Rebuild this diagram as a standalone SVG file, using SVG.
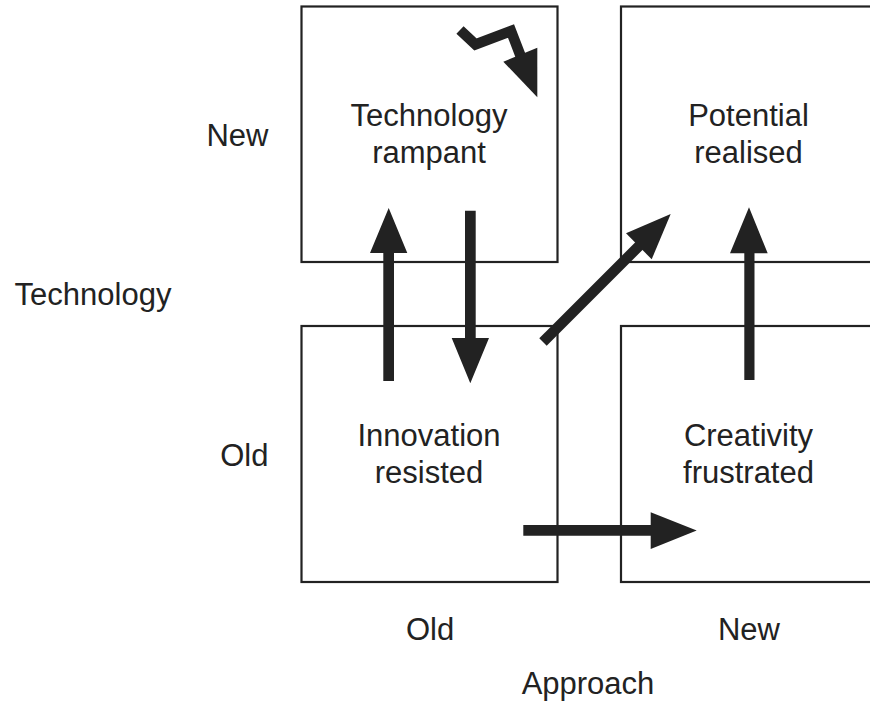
<svg xmlns="http://www.w3.org/2000/svg" width="870" height="701" viewBox="0 0 870 701">
<style>
.box{fill:none;stroke:#222;stroke-width:2.2}
.t{font-family:"Liberation Sans",Arial,Helvetica,sans-serif;font-size:31px;fill:#222;text-anchor:middle}
.r{text-anchor:end}
.a{fill:#222;stroke:none}
.s{fill:none;stroke:#222;stroke-width:10.5;stroke-linecap:butt;stroke-linejoin:miter}
</style>
<rect width="870" height="701" fill="#fff"/>
<g id="node-rampant">
<rect class="box" x="301.5" y="6.5" width="256" height="255.5"/>
<text class="t" x="429" y="126">Technology</text>
<text class="t" x="429" y="163">rampant</text>
</g>
<g id="node-realised">
<rect class="box" x="621" y="6.5" width="270" height="255.5"/>
<text class="t" x="748.5" y="126">Potential</text>
<text class="t" x="748.5" y="163">realised</text>
</g>
<g id="node-resisted">
<rect class="box" x="301.5" y="326" width="256" height="256"/>
<text class="t" x="429" y="446">Innovation</text>
<text class="t" x="429" y="483">resisted</text>
</g>
<g id="node-frustrated">
<rect class="box" x="621" y="326" width="270" height="256"/>
<text class="t" x="748.5" y="446">Creativity</text>
<text class="t" x="748.5" y="483">frustrated</text>
</g>
<g id="axis-labels">
<text class="t r" x="268.5" y="146">New</text>
<text class="t r" x="268.5" y="466">Old</text>
<text class="t" x="93" y="305">Technology</text>
<text class="t" x="430" y="640">Old</text>
<text class="t" x="749" y="640">New</text>
<text class="t" x="588" y="694">Approach</text>
</g>
<g id="connectors">
<polygon class="a" points="383.3,381 383.3,253 370,253 388.7,208 407.3,253 394,253 394,381"/>
<polygon class="a" points="465,210.7 475.7,210.7 475.7,338 489,338 470.3,383.3 451.7,338 465,338"/>
<polygon class="a" points="744.3,380 744.3,253.3 730,253.3 749,207.3 767.7,253.3 754.5,253.3 754.5,380"/>
<polygon class="a" points="523.3,525 650.7,525 650.7,512.3 696.7,530.5 650.7,549 650.7,535.7 523.3,535.7"/>
<line class="s" x1="543" y1="342" x2="641" y2="244"/>
<polygon class="a" points="626,233.3 670.7,214 651.7,259.3"/>
<polyline class="s" points="460,30 475.5,44.5 511,31 521,57"/>
<polygon class="a" points="503.3,61.7 537.3,47.7 537.3,97.3"/>
</g>
</svg>
